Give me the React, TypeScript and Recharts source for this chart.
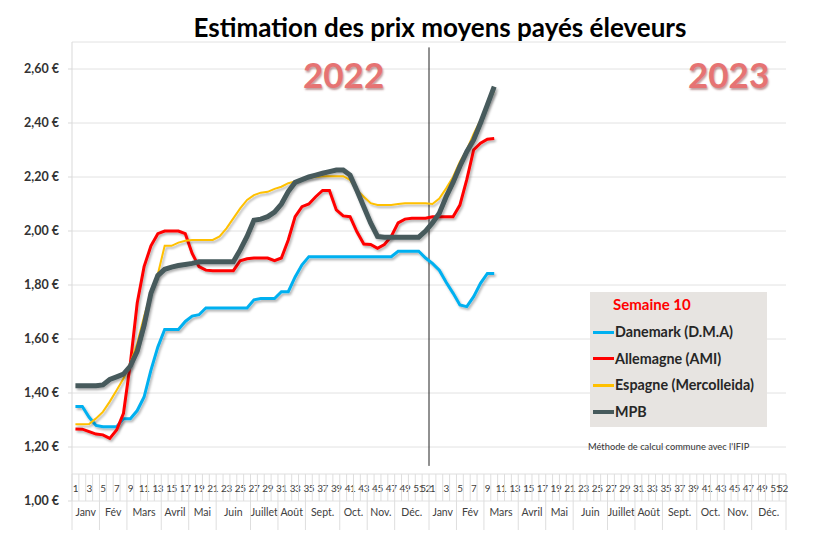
import { LineChart, Line, XAxis, YAxis, CartesianGrid, ReferenceLine } from "recharts";

// Semaines 1..52 de 2022, puis 1..10 de 2023
const danemark2022 = [
  1.35, 1.35, 1.31, 1.28, 1.275, 1.275, 1.275, 1.305, 1.305, 1.335, 1.385, 1.485, 1.57, 1.635, 1.635, 1.635,
  1.665, 1.685, 1.69, 1.715, 1.715, 1.715, 1.715, 1.715, 1.715, 1.715, 1.745, 1.75, 1.75, 1.75, 1.775, 1.775,
  1.83, 1.875, 1.905, 1.905, 1.905, 1.905, 1.905, 1.905, 1.905, 1.905, 1.905, 1.905, 1.905, 1.905, 1.905,
  1.925, 1.925, 1.925, 1.925, 1.9,
];
const danemark2023 = [1.88, 1.855, 1.81, 1.77, 1.726, 1.72, 1.757, 1.806, 1.843, 1.843];

const allemagne2022 = [
  1.267, 1.266, 1.257, 1.248, 1.245, 1.232, 1.263, 1.325, 1.51, 1.733, 1.868, 1.945, 1.99, 2.0, 2.0, 2.0,
  1.99, 1.917, 1.868, 1.855, 1.853, 1.853, 1.853, 1.853, 1.89, 1.897, 1.9, 1.9, 1.9, 1.89, 1.9, 1.967,
  2.053, 2.09, 2.1, 2.127, 2.15, 2.15, 2.078, 2.056, 2.053, 1.997, 1.952, 1.95, 1.936, 1.95, 1.98, 2.03,
  2.044, 2.047, 2.047, 2.047,
];
const allemagne2023 = [2.053, 2.053, 2.053, 2.053, 2.096, 2.19, 2.3, 2.325, 2.34, 2.343];

const espagne2022 = [
  1.284, 1.284, 1.285, 1.306, 1.33, 1.368, 1.41, 1.454, 1.51, 1.584, 1.683, 1.77, 1.84, 1.945, 1.945, 1.957,
  1.964, 1.967, 1.967, 1.967, 1.967, 1.98, 2.01, 2.047, 2.084, 2.115, 2.133, 2.142, 2.145, 2.156, 2.164,
  2.177, 2.183, 2.193, 2.197, 2.2, 2.203, 2.203, 2.203, 2.203, 2.189, 2.152, 2.127, 2.103, 2.096, 2.096,
  2.096, 2.1, 2.103, 2.103, 2.103, 2.103,
];
const espagne2023 = [2.1, 2.12, 2.158, 2.2, 2.257, 2.3, 2.36, 2.41, 2.467, 2.52];

const mpb2022 = [
  1.427, 1.427, 1.427, 1.427, 1.43, 1.45, 1.46, 1.47, 1.5, 1.555, 1.65, 1.77, 1.835, 1.858, 1.866, 1.872,
  1.876, 1.88, 1.886, 1.886, 1.886, 1.886, 1.886, 1.886, 1.93, 1.98, 2.04, 2.044, 2.053, 2.07, 2.1, 2.146,
  2.18, 2.19, 2.2, 2.207, 2.214, 2.22, 2.226, 2.226, 2.207, 2.15, 2.09, 2.03, 1.98, 1.977, 1.977, 1.977,
  1.977, 1.977, 1.977, 2.0,
];
const mpb2023 = [2.03, 2.066, 2.127, 2.18, 2.24, 2.294, 2.337, 2.4, 2.467, 2.535];

const monthNames = ["Janv", "Fév", "Mars", "Avril", "Mai", "Juin", "Juillet", "Août", "Sept.", "Oct.", "Nov.", "Déc."];
const monthWeeks = [4, 4, 5, 4, 4, 5, 4, 4, 5, 4, 4, 5];
const yTicks = [1, 1.2, 1.4, 1.6, 1.8, 2, 2.2, 2.4, 2.6];

const WEEKS = 104;
const pick = (a: number[], b: number[], i: number) => (i < 52 ? a[i] ?? null : b[i - 52] ?? null);

const data = Array.from({ length: WEEKS }, (_, i) => ({
  idx: i + 1,
  danemark: pick(danemark2022, danemark2023, i),
  allemagne: pick(allemagne2022, allemagne2023, i),
  espagne: pick(espagne2022, espagne2023, i),
  mpb: pick(mpb2022, mpb2023, i),
}));

const W = 820;
const H = 533;
const PLOT_LEFT = 72;
const PLOT_RIGHT = 786;
const STEP = (PLOT_RIGHT - PLOT_LEFT) / WEEKS;
const AXIS_Y = 501;
const ROW_TOP = 474;
const ROW_BOTTOM = 530;
const FONT = "Lato, 'Open Sans', sans-serif";

const monthStart: Record<number, number> = {};
let acc = 1;
monthWeeks.forEach((n, m) => {
  monthStart[acc] = m;
  acc += n;
});

const WeekTick = ({ x, payload }: any) => {
  const i = payload.value as number;
  const w = ((i - 1) % 52) + 1;
  const left = x - STEP / 2;
  const right = x + STEP / 2;
  const m = monthStart[w];
  return (
    <g>
      <line x1={left} x2={left} y1={ROW_TOP} y2={AXIS_Y} stroke="#dedede" />
      {i === WEEKS && <line x1={right} x2={right} y1={ROW_TOP} y2={ROW_BOTTOM} stroke="#dedede" />}
      {(w % 2 === 1 || w === 52) && (
        <text
          x={x}
          y={492}
          textAnchor="middle"
          fontSize={10}
          letterSpacing={-0.4}
          fill="#404040"
          fontFamily={FONT}
        >
          {w}
        </text>
      )}
      {m !== undefined && (
        <g>
          <line x1={left} x2={left} y1={AXIS_Y} y2={ROW_BOTTOM} stroke="#dedede" />
          <text
            x={left + (monthWeeks[m] * STEP) / 2}
            y={516}
            textAnchor="middle"
            fontSize={10.5}
            fill="#404040"
            fontFamily={FONT}
          >
            {monthNames[m]}
          </text>
        </g>
      )}
    </g>
  );
};

const legendItems = [
  { name: "Danemark (D.M.A)", color: "#00b0f0", width: 3 },
  { name: "Allemagne (AMI)", color: "#ff0000", width: 3 },
  { name: "Espagne (Mercolleida)", color: "#ffc000", width: 2.5 },
  { name: "MPB", color: "#465a5c", width: 4 },
];

const yearStyle: any = {
  position: "absolute",
  top: 53,
  fontFamily: FONT,
  fontWeight: 700,
  fontSize: 35,
  color: "#e67373",
  textShadow: "1px 2px 2px rgba(120,40,40,0.45)",
  lineHeight: "42px",
};

export default function App() {
  return (
    <div style={{ position: "relative", width: W, height: H, background: "#fff", fontFamily: FONT }}>
      <style>{`body{margin:0}`}</style>
      <div
        style={{
          position: "absolute",
          top: 11,
          left: 0,
          width: 880,
          textAlign: "center",
          fontSize: 26,
          fontWeight: 700,
          color: "#000",
          lineHeight: "32px",
        }}
      >
        Estimation des prix moyens payés éleveurs
      </div>
      <LineChart width={W} height={H} data={data} margin={{ top: 42, right: W - PLOT_RIGHT, left: 0, bottom: 0 }}>
        <defs>
          <filter id="shadow" x="-5%" y="-5%" width="110%" height="120%">
            <feDropShadow dx="1.5" dy="2" stdDeviation="1.2" floodColor="#000" floodOpacity="0.3" />
          </filter>
        </defs>
        <CartesianGrid vertical={false} stroke="#e2e2e2" />
        <XAxis
          dataKey="idx"
          type="number"
          domain={[0.5, WEEKS + 0.5]}
          ticks={data.map((d) => d.idx)}
          interval={0}
          allowDataOverflow
          axisLine={false}
          tickLine={false}
          height={32}
          tick={(props: any) => <WeekTick {...props} />}
        />
        <YAxis
          type="number"
          domain={[1, 2.7]}
          ticks={yTicks}
          allowDataOverflow
          width={PLOT_LEFT}
          axisLine={{ stroke: "#d9d9d9" }}
          tickLine={{ stroke: "#d9d9d9" }}
          tickSize={4}
          tickMargin={9}
          tick={{ fontSize: 12.5, fontWeight: 700, fill: "#333", fontFamily: FONT }}
          tickFormatter={(v: number) => v.toFixed(2).replace(".", ",") + " €"}
        />
        <ReferenceLine y={1.1} stroke="#dedede" />
        <ReferenceLine
          segment={[
            { x: 52.5, y: 1.13 },
            { x: 52.5, y: 2.68 },
          ]}
          stroke="#222"
          strokeWidth={1}
        />
        <Line
          type="linear"
          dataKey="danemark"
          stroke="#00b0f0"
          strokeWidth={3}
          dot={false}
          filter="url(#shadow)"
          isAnimationActive={false}
        />
        <Line
          type="linear"
          dataKey="allemagne"
          stroke="#ff0000"
          strokeWidth={3}
          dot={false}
          filter="url(#shadow)"
          isAnimationActive={false}
        />
        <Line
          type="linear"
          dataKey="espagne"
          stroke="#ffc000"
          strokeWidth={2}
          dot={false}
          filter="url(#shadow)"
          isAnimationActive={false}
        />
        <Line
          type="linear"
          dataKey="mpb"
          stroke="#465a5c"
          strokeWidth={5}
          dot={false}
          filter="url(#shadow)"
          isAnimationActive={false}
        />
      </LineChart>
      <div style={{ ...yearStyle, left: 303 }}>2022</div>
      <div style={{ ...yearStyle, left: 688 }}>2023</div>
      <div
        style={{
          position: "absolute",
          left: 590,
          top: 292,
          width: 177,
          height: 135,
          background: "#e7e4e1",
        }}
      >
        <div style={{ position: "absolute", left: 23, top: 3, color: "#ff0000", fontWeight: 700, fontSize: 15 }}>
          Semaine 10
        </div>
        {legendItems.map((it, k) => (
          <div
            key={it.name}
            style={{ position: "absolute", left: 3, top: 31 + k * 26.7, display: "flex", alignItems: "center" }}
          >
            <div style={{ width: 21, height: it.width, background: it.color }} />
            <span style={{ fontWeight: 700, fontSize: 14.3, color: "#262626", marginLeft: 1, lineHeight: "18px" }}>
              {it.name}
            </span>
          </div>
        ))}
      </div>
      <div style={{ position: "absolute", left: 588, top: 441, fontSize: 9.3, color: "#333" }}>
        Méthode de calcul commune avec l'IFIP
      </div>
    </div>
  );
}
